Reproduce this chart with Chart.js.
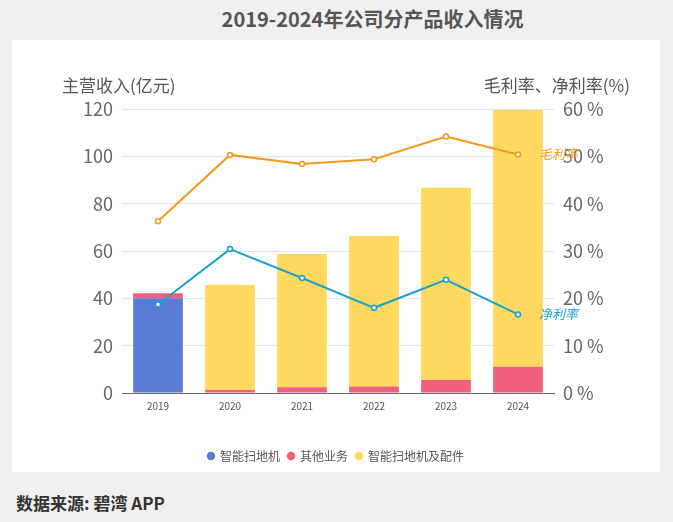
<!DOCTYPE html>
<html lang="zh">
<head>
    <meta charset="UTF-8">
    <title>2019-2024年公司分产品收入情况</title>
    <script src="https://cdn.jsdelivr.net/npm/chart.js"></script>
    <style>
        body {
            margin: 0;
            width: 673px;
            height: 522px;
            background-color: #f0f0f0;
            font-family: 'Noto Sans CJK SC', 'Noto Sans', sans-serif;
            position: relative;
            overflow: hidden;
        }

        .title {
            position: absolute;
            left: 0;
            width: 745px;
            top: 4px;
            text-align: center;
            font-size: 20px;
            font-weight: bold;
            color: #555;
        }

        .panel {
            position: absolute;
            left: 12px;
            top: 40px;
            width: 648px;
            height: 432px;
            background: #fff;
        }

        .axis-title {
            position: absolute;
            top: 32px;
            font-size: 17px;
            color: #555;
        }

        .source {
            position: absolute;
            left: 16px;
            top: 490px;
            font-size: 17px;
            font-weight: bold;
            color: #333;
        }
    </style>
</head>
<body>
    <div class="title">2019-2024年公司分产品收入情况</div>

    <div class="panel">
        <canvas id="revenueChart" width="648" height="432"></canvas>
        <span class="axis-title" style="left:50px;">主营收入(亿元)</span>
        <span class="axis-title" style="right:30px;">毛利率、净利率(%)</span>
    </div>

    <div class="source">数据来源: 碧湾 APP</div>

    <script>
        // 数据 (亿元 / %)
        const years = ['2019', '2020', '2021', '2022', '2023', '2024'];
        const robotOnly = [40.0, null, null, null, null, null];       // 智能扫地机
        const otherBiz = [2.2, 1.3, 2.4, 2.7, 5.5, 11.1];              // 其他业务
        const robotAndParts = [null, 44.3, 56.3, 63.6, 81.2, 108.5];   // 智能扫地机及配件
        const grossMargin = [36.3, 50.3, 48.4, 49.4, 54.2, 50.4];      // 毛利率
        const netMargin = [18.7, 30.4, 24.3, 18.0, 23.9, 16.6];        // 净利率
        const revenueTicks = [0, 20, 40, 60, 80, 100, 120];
        const marginTicks = [0, 10, 20, 30, 40, 50, 60];

        const fontFamily = "'Noto Sans CJK SC', 'Noto Sans', sans-serif";

        // 折线末端标签
        const endLabels = {
            id: 'endLabels',
            afterDatasetsDraw(chart) {
                const ctx = chart.ctx;
                chart.data.datasets.forEach((ds, i) => {
                    if (ds.type !== 'line') return;
                    const meta = chart.getDatasetMeta(i);
                    const last = meta.data[meta.data.length - 1];
                    ctx.save();
                    ctx.font = 'italic 13px ' + fontFamily;
                    ctx.fillStyle = ds.borderColor;
                    ctx.textBaseline = 'middle';
                    ctx.fillText(ds.label, last.x + 21, last.y);
                    ctx.restore();
                });
            }
        };

        const barOpts = {
            type: 'bar',
            yAxisID: 'y',
            stack: 'rev',
            barPercentage: 0.69,
            categoryPercentage: 1,
            order: 2
        };

        const lineOpts = {
            type: 'line',
            yAxisID: 'y1',
            borderWidth: 2,
            pointRadius: 2.5,
            pointBorderWidth: 1.5,
            pointBackgroundColor: '#fff',
            tension: 0,
            order: 0
        };

        new Chart(document.getElementById('revenueChart'), {
            data: {
                labels: years,
                datasets: [
                    { ...barOpts, label: '智能扫地机', data: robotOnly, backgroundColor: '#5b7bd5' },
                    { ...barOpts, label: '其他业务', data: otherBiz, backgroundColor: '#f0607e' },
                    { ...barOpts, label: '智能扫地机及配件', data: robotAndParts, backgroundColor: '#ffd95f' },
                    { ...lineOpts, label: '毛利率', data: grossMargin, borderColor: '#f39a1e', pointBorderColor: '#f39a1e' },
                    { ...lineOpts, label: '净利率', data: netMargin, borderColor: '#17a4cb', pointBorderColor: '#17a4cb' }
                ]
            },
            options: {
                responsive: false,
                animation: false,
                layout: { padding: { top: 69, bottom: 0 } },
                plugins: {
                    tooltip: { enabled: false },
                    legend: {
                        position: 'bottom',
                        labels: {
                            usePointStyle: true,
                            pointStyle: 'circle',
                            boxWidth: 6,
                            boxHeight: 6,
                            padding: 8,
                            color: '#555',
                            font: { size: 12, family: fontFamily },
                            filter: item => item.datasetIndex < 3
                        }
                    }
                },
                scales: {
                    x: {
                        stacked: true,
                        grid: { display: false, drawTicks: false },
                        border: { color: '#666' },
                        ticks: { color: '#555', font: { size: 10, family: fontFamily }, padding: 7 },
                        afterFit: scale => { scale.height = 49; }
                    },
                    y: {
                        position: 'left',
                        stacked: true,
                        min: 0,
                        max: 120,
                        afterBuildTicks: scale => { scale.ticks = revenueTicks.map(v => ({ value: v })); },
                        grid: { color: '#e4e4e4', drawTicks: false },
                        border: { display: false },
                        ticks: { color: '#666', padding: 9, font: { size: 18, family: fontFamily } },
                        afterFit: scale => { scale.width = 110; }
                    },
                    y1: {
                        position: 'right',
                        min: 0,
                        max: 60,
                        afterBuildTicks: scale => { scale.ticks = marginTicks.map(v => ({ value: v })); },
                        grid: { display: false, drawTicks: false },
                        border: { display: false },
                        ticks: {
                            color: '#666',
                            padding: 9,
                            font: { size: 18, family: fontFamily },
                            callback: v => v + ' %'
                        },
                        afterFit: scale => { scale.width = 106; }
                    }
                }
            },
            plugins: [endLabels]
        });
    </script>
</body>
</html>
